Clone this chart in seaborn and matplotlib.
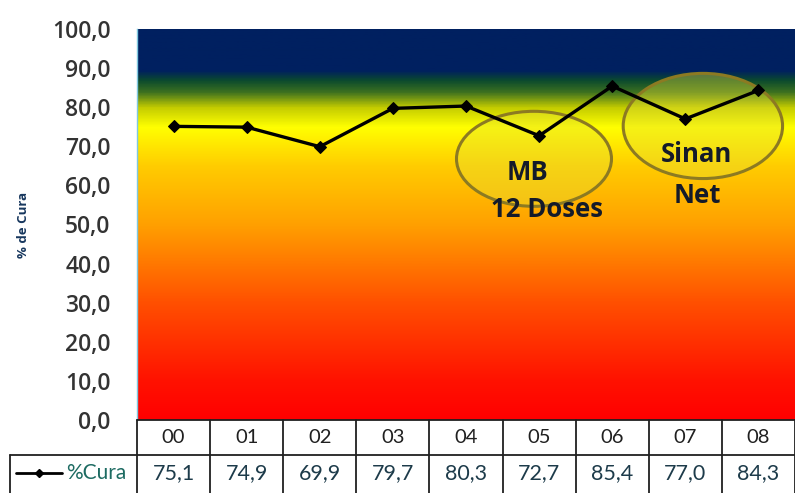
import numpy as np
import pandas as pd
import seaborn as sns
import matplotlib.pyplot as plt
from matplotlib.colors import LinearSegmentedColormap
from matplotlib.patches import Ellipse
from matplotlib.lines import Line2D

# Série histórica de cura (%)
anos = ["00", "01", "02", "03", "04", "05", "06", "07", "08"]
cura = [75.1, 74.9, 69.9, 79.7, 80.3, 72.7, 85.4, 77.0, 84.3]
serie = "%Cura"
yticks = [0, 10, 20, 30, 40, 50, 60, 70, 80, 90, 100]

sns.set_theme(style="white")
plt.rcParams["font.family"] = ["Lato", "DejaVu Sans"]
BOLD = ["Open Sans", "DejaVu Sans"]

W, H = 795, 493
fig = plt.figure(figsize=(W / 100, H / 100), dpi=100)
left_px, right_px, top_px, bottom_px = 137, 795, 29, 420
ax = fig.add_axes([left_px / W, 1 - bottom_px / H,
                   (right_px - left_px) / W, (bottom_px - top_px) / H])

n = len(anos)
ax.set_xlim(-0.5, n - 0.5)
ax.set_ylim(0, 100)

# Vertical background gradient: red at the bottom, navy at the top
stops = [
    (0.00, "#ff0000"),
    (0.10, "#ff1200"),
    (0.30, "#ff5000"),
    (0.50, "#ffa000"),
    (0.65, "#ffcc00"),
    (0.75, "#ffff00"),
    (0.80, "#c4cc00"),
    (0.84, "#3c7020"),
    (0.87, "#0b4a2e"),
    (0.895, "#002060"),
    (1.00, "#002060"),
]
cmap = LinearSegmentedColormap.from_list("faixas", stops)
grad = np.linspace(0, 1, 512).reshape(-1, 1)
ax.imshow(grad, cmap=cmap, aspect="auto", origin="lower",
          extent=(-0.5, n - 0.5, 0, 100), zorder=0)

# Highlight ellipses
for (cx, cy, w, h) in [(4.93, 66.8, 2.12, 24.3), (7.24, 75.2, 2.18, 26.9)]:
    ax.add_patch(Ellipse((cx, cy), w, h, facecolor=(0.90, 0.88, 0.20, 0.40),
                         edgecolor="#8c7a22", linewidth=2.2, zorder=2))

df = pd.DataFrame({"pos": np.arange(n), "valor": cura})
sns.lineplot(data=df, x="pos", y="valor", ax=ax, color="black", linewidth=2.4,
             marker="D", markersize=6, markeredgecolor="black", zorder=3)

txt_kw = dict(fontsize=18.5, fontweight="bold", family=BOLD, color="#141a2a",
              ha="center", va="center", zorder=4)
ax.text(4.84, 63.2, "MB", **txt_kw)
ax.text(5.11, 53.8, "12 Doses", **txt_kw)
ax.text(7.15, 68.0, "Sinan", **txt_kw)
ax.text(7.17, 57.5, "Net", **txt_kw)

# Axes styling
ax.set_xticks([])
ax.set_yticks(yticks)
ax.set_yticklabels([f"{v:.1f}".replace(".", ",") for v in yticks],
                   fontsize=16.5, color="#333333", fontweight="semibold",
                   family=["Open Sans", "DejaVu Sans"])
ax.tick_params(axis="y", length=0, pad=19)
for s in ["top", "right", "bottom"]:
    ax.spines[s].set_visible(False)
ax.spines["left"].set_color("#7fc8e0")
ax.spines["left"].set_linewidth(1.0)
ax.set_xlabel("")
ax.set_ylabel("% de Cura", fontsize=9.5, fontweight="bold", family=BOLD,
              color="#17375e", labelpad=0)
ax.yaxis.set_label_coords(-0.163, 0.5)

# Data table below the plot
unit_px = (right_px - left_px) / n
ppy = (bottom_px - top_px) / 100.0
row1 = 35 / ppy
legend_left = -0.5 - (left_px - 10) / unit_px
y_row1_bot = -row1
y_bottom = -(H - bottom_px) / ppy
lk = dict(color="#202020", linewidth=1.3, clip_on=False, zorder=5)

ax.plot([-0.5, n - 0.5], [0, 0], **lk)
ax.plot([legend_left, n - 0.5], [y_row1_bot, y_row1_bot], **lk)
ax.plot([legend_left, legend_left], [y_row1_bot, y_bottom], **lk)
for i in range(n + 1):
    ax.plot([i - 0.5, i - 0.5], [0, y_bottom], **lk)

for i, a in enumerate(anos):
    ax.text(i, -row1 / 2, a, ha="center", va="center", fontsize=14.5,
            color="#202020", clip_on=False)
    ax.text(i, y_row1_bot - 18 / ppy, f"{cura[i]:.1f}".replace(".", ","),
            ha="center", va="center", fontsize=15.5, color="#1d3b4a",
            clip_on=False)

# Legend key inside the table
ky = y_row1_bot - 18 / ppy
kx0 = -0.5 - (left_px - 16) / unit_px
kx1 = -0.5 - (left_px - 62) / unit_px
ax.add_line(Line2D([kx0, kx1], [ky, ky], color="black", linewidth=2,
                   clip_on=False))
ax.add_line(Line2D([(kx0 + kx1) / 2], [ky], color="black", marker="D",
                   markersize=4, clip_on=False))
ax.text(-0.5 - (left_px - 66) / unit_px, ky, serie, ha="left", va="center",
        fontsize=15, color="#1d6b62", clip_on=False)

fig.savefig("out.png", dpi=100)
